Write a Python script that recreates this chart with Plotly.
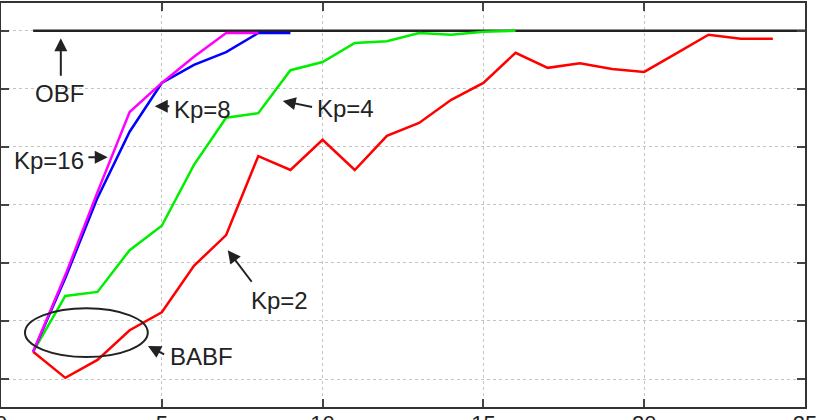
import plotly.graph_objects as go

# ---- data ----
x_kp2 = list(range(1, 25))
y_kp2 = [0.447, 0.402, 0.433, 0.484, 0.515, 0.595, 0.648, 0.784, 0.760, 0.812,
         0.760, 0.819, 0.841, 0.881, 0.910, 0.962, 0.936, 0.944, 0.934, 0.929,
         0.961, 0.993, 0.986, 0.986]

x_kp4 = list(range(1, 17))
y_kp4 = [0.447, 0.543, 0.550, 0.622, 0.664, 0.769, 0.850, 0.858, 0.932, 0.946,
         0.979, 0.982, 0.996, 0.993, 0.998, 1.000]

x_kp8 = list(range(1, 10))
y_kp8 = [0.447, 0.574, 0.712, 0.826, 0.910, 0.941, 0.963, 0.996, 0.996]

x_kp16 = list(range(1, 9))
y_kp16 = [0.447, 0.579, 0.722, 0.860, 0.910, 0.955, 0.996, 0.996]

x_obf = [1, 25]
y_obf = [1.0, 1.0]

x_ticks = [0, 5, 10, 15, 20, 25]
y_ticks = [0.4, 0.5, 0.6, 0.7, 0.8, 0.9, 1.0]

FONT = "Liberation Sans, Arial, sans-serif"
TXT = "#222222"

fig = go.Figure()
fig.add_trace(go.Scatter(x=x_obf, y=y_obf, mode="lines",
                         line=dict(color="#222222", width=2.5), name="OBF"))
fig.add_trace(go.Scatter(x=x_kp2, y=y_kp2, mode="lines",
                         line=dict(color="#ff0000", width=2.5), name="Kp=2"))
fig.add_trace(go.Scatter(x=x_kp4, y=y_kp4, mode="lines",
                         line=dict(color="#00ee00", width=2.5), name="Kp=4"))
fig.add_trace(go.Scatter(x=x_kp8, y=y_kp8, mode="lines",
                         line=dict(color="#0000ff", width=2.5), name="Kp=8"))
fig.add_trace(go.Scatter(x=x_kp16, y=y_kp16, mode="lines",
                         line=dict(color="#ff00ff", width=2.5), name="Kp=16"))

# ellipse around BABF start point
fig.add_shape(type="circle", xref="x", yref="y",
              x0=0.745, x1=4.565, y0=0.438, y1=0.522,
              line=dict(color="#222222", width=2))

# text labels
labels = [
    ("OBF", 1.83, 0.892),
    ("Kp=16", 1.49, 0.777),
    ("Kp=8", 6.27, 0.865),
    ("Kp=4", 10.71, 0.866),
    ("Kp=2", 8.66, 0.536),
    ("BABF", 6.23, 0.438),
]
for t, xx, yy in labels:
    fig.add_annotation(x=xx, y=yy, text=t, showarrow=False,
                       xanchor="center", yanchor="middle",
                       font=dict(family=FONT, size=24, color=TXT))

# arrows: (tip_x, tip_y, tail_x, tail_y)
arrows = [
    (1.86, 0.987, 1.86, 0.920),
    (3.32, 0.782, 2.67, 0.782),
    (4.78, 0.870, 5.28, 0.870),
    (8.76, 0.879, 9.72, 0.868),
    (7.05, 0.622, 7.83, 0.565),
    (4.57, 0.457, 5.12, 0.441),
]
for tx, ty, sx, sy in arrows:
    fig.add_annotation(x=tx, y=ty, ax=sx, ay=sy, xref="x", yref="y",
                       axref="x", ayref="y", text="", showarrow=True,
                       arrowhead=2, arrowsize=1.3, arrowwidth=2,
                       arrowcolor="#222222", standoff=0, startstandoff=0)

fig.update_xaxes(range=[0, 25], tickvals=x_ticks, ticktext=[str(v) for v in x_ticks],
                 showgrid=True, gridcolor="#c4c4c4", griddash="dot", gridwidth=1,
                 showline=True, linecolor="#333333", linewidth=2, mirror="ticks",
                 ticks="inside", ticklen=8, tickwidth=1.5, tickcolor="#444444",
                 tickfont=dict(family=FONT, size=22, color=TXT), zeroline=False,
                 automargin=False, ticklabelstandoff=-4, ticklabeloverflow="allow")
fig.update_yaxes(range=[0.3518, 1.0477], tickvals=y_ticks,
                 showgrid=True, gridcolor="#c4c4c4", griddash="dot", gridwidth=1,
                 showline=True, linecolor="#333333", linewidth=2, mirror="ticks",
                 ticks="inside", ticklen=8, tickwidth=1.5, tickcolor="#444444",
                 showticklabels=False, zeroline=False, automargin=False)

fig.update_layout(width=816, height=420,
                  margin=dict(l=1, r=11, t=3, b=13),
                  paper_bgcolor="white", plot_bgcolor="white",
                  showlegend=False)

fig.write_html("out.html")
